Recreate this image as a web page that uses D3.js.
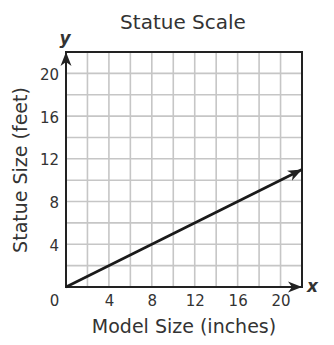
<!DOCTYPE html>
<html>
<head>
<meta charset="utf-8">
<script src="https://cdn.jsdelivr.net/npm/d3@7"></script>
<style>
  body { margin: 0; background: #fff; }
  text { font-family: "DejaVu Sans", Verdana, sans-serif; fill: #333; }
</style>
</head>
<body>
<div id="chart"></div>
<script>
// data
const modelSizes = [0, 22];   // inches
const statueSizes = [0, 11];  // feet
const xTickValues = [4, 8, 12, 16, 20];
const yTickValues = [4, 8, 12, 16, 20];
const gridValues = d3.range(2, 22, 2);

const width = 334, height = 345;
const margin = { top: 52, right: 32, bottom: 58, left: 66 };

const svg = d3.select("#chart")
  .append("svg")
  .attr("width", width)
  .attr("height", height);

const x = d3.scaleLinear().domain([0, 22]).range([margin.left, width - margin.right]);
const y = d3.scaleLinear().domain([0, 22]).range([height - margin.bottom, margin.top]);

// title
svg.append("text")
  .attr("x", 183)
  .attr("y", 29)
  .attr("text-anchor", "middle")
  .attr("font-size", "20px")
  .text("Statue Scale");

// grid
const grid = svg.append("g").attr("stroke", "#c6c6c6").attr("stroke-width", 1.6);
grid.selectAll(".gx")
  .data(gridValues)
  .join("line")
  .attr("x1", d => x(d)).attr("x2", d => x(d))
  .attr("y1", y(0)).attr("y2", y(22));
grid.selectAll(".gy")
  .data(gridValues)
  .join("line")
  .attr("y1", d => y(d)).attr("y2", d => y(d))
  .attr("x1", x(0)).attr("x2", x(22));

// frame
svg.append("rect")
  .attr("x", x(0)).attr("y", y(22))
  .attr("width", x(22) - x(0))
  .attr("height", y(0) - y(22))
  .attr("fill", "none")
  .attr("stroke", "#222")
  .attr("stroke-width", 2);

// arrowhead marker
svg.append("defs").append("marker")
  .attr("id", "arrow")
  .attr("viewBox", "-14 -6 15 12")
  .attr("refX", 0).attr("refY", 0)
  .attr("markerWidth", 15).attr("markerHeight", 12)
  .attr("markerUnits", "userSpaceOnUse")
  .attr("orient", "auto")
  .append("path")
  .attr("d", "M0,0 L-14,-5.5 L-10,0 L-14,5.5 Z")
  .attr("fill", "#222");

// axis arrows
svg.append("line")
  .attr("x1", x(0)).attr("y1", y(0))
  .attr("x2", x(22)).attr("y2", y(0))
  .attr("stroke", "#222").attr("stroke-width", 2)
  .attr("marker-end", "url(#arrow)");
svg.append("line")
  .attr("x1", x(0)).attr("y1", y(0))
  .attr("x2", x(0)).attr("y2", y(22))
  .attr("stroke", "#222").attr("stroke-width", 2)
  .attr("marker-end", "url(#arrow)");

// data line
const line = d3.line()
  .x(d => x(d[0]))
  .y(d => y(d[1]));
svg.append("path")
  .datum(d3.zip(modelSizes, statueSizes))
  .attr("d", line)
  .attr("fill", "none")
  .attr("stroke", "#1a1a1a")
  .attr("stroke-width", 2.6)
  .attr("marker-end", "url(#arrow)");

// axes (labels only)
const xAxis = svg.append("g")
  .attr("transform", `translate(0,${y(0)})`)
  .call(d3.axisBottom(x).tickValues([0, ...xTickValues]).tickSize(0).tickPadding(8));
xAxis.select(".domain").remove();
xAxis.selectAll(".tick").filter(d => d === 0).select("text").attr("x", -12);

const yAxis = svg.append("g")
  .attr("transform", `translate(${x(0)},0)`)
  .call(d3.axisLeft(y).tickValues(yTickValues).tickSize(0).tickPadding(7));
yAxis.select(".domain").remove();
yAxis.selectAll(".tick text").attr("dy", "0.4em");

svg.selectAll(".tick text")
  .attr("font-family", "DejaVu Sans, Verdana, sans-serif")
  .attr("font-size", "15px")
  .attr("fill", "#333");

// axis titles
svg.append("text")
  .attr("x", 184)
  .attr("y", 333)
  .attr("text-anchor", "middle")
  .attr("font-size", "19px")
  .text("Model Size (inches)");

svg.append("text")
  .attr("transform", "translate(27,170) rotate(-90)")
  .attr("text-anchor", "middle")
  .attr("font-size", "19px")
  .text("Statue Size (feet)");

// axis letters
svg.append("text")
  .attr("x", x(22) + 5)
  .attr("y", y(0) + 5)
  .attr("font-size", "17px")
  .attr("font-weight", "bold")
  .attr("font-style", "italic")
  .attr("fill", "#222")
  .text("x");

svg.append("text")
  .attr("x", x(0) - 1)
  .attr("y", y(22) - 8)
  .attr("text-anchor", "middle")
  .attr("font-size", "17px")
  .attr("font-weight", "bold")
  .attr("font-style", "italic")
  .attr("fill", "#222")
  .text("y");
</script>
</body>
</html>
